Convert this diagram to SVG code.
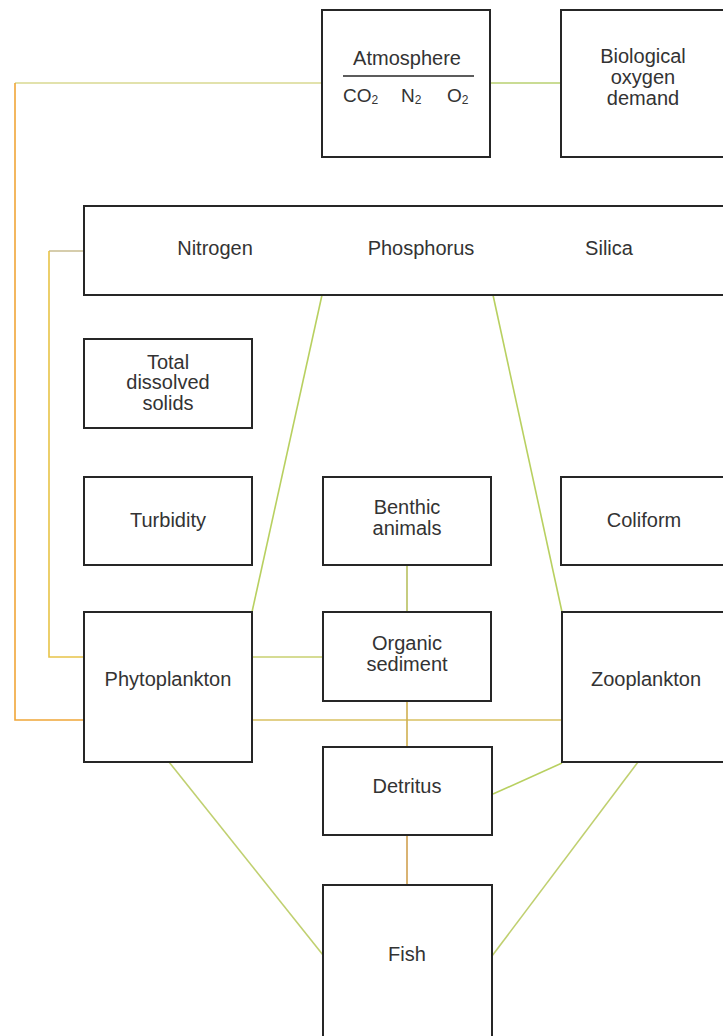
<svg xmlns="http://www.w3.org/2000/svg" width="723" height="1036" viewBox="0 0 723 1036">
<style>
.box{fill:#fff;stroke:#262626;stroke-width:2}
.t{font-family:"Liberation Sans",Arial,sans-serif;font-size:20px;fill:#333;text-anchor:middle}
.c{fill:none;stroke-width:1.6}
.sub{font-size:12px}
</style>
<rect width="723" height="1036" fill="#fff"/>
<g id="connectors">
<path class="c" d="M322,83 H15" stroke="#d8d890"/>
<path class="c" d="M15,83 V720 H84" stroke="#f0a638"/>
<path class="c" d="M490,83 H561" stroke="#b8d070"/>
<path class="c" d="M84,251 H49" stroke="#c8bc90"/>
<path class="c" d="M49,251 V657 H84" stroke="#e8c448"/>
<path class="c" d="M252,657 H323" stroke="#c8d070"/>
<path class="c" d="M322,295 L252,612" stroke="#b8d060"/>
<path class="c" d="M493,295 L562,612" stroke="#b8d060"/>
<path class="c" d="M407,565 V612" stroke="#b8c060"/>
<path class="c" d="M252,720 H562" stroke="#d8c060"/>
<path class="c" d="M407,701 V747" stroke="#d0b050"/>
<path class="c" d="M562,763 L493,794" stroke="#b8d060" stroke-width="2"/>
<path class="c" d="M407,835 V885" stroke="#d0a050"/>
<path class="c" d="M169,762 L323,955" stroke="#c0d070"/>
<path class="c" d="M638,762 L492,956" stroke="#c0d070"/>
</g>
<g id="atmosphere">
<rect class="box" x="322" y="10" width="168" height="147"/>
<text class="t" x="407" y="65">Atmosphere</text>
<line x1="343" y1="76" x2="474" y2="76" stroke="#262626" stroke-width="1.5"/>
<text class="t" x="343" y="102" style="text-anchor:start;font-size:19px">CO<tspan class="sub" dy="2">2</tspan><tspan dy="-2" x="401">N</tspan><tspan class="sub" dy="2">2</tspan><tspan dy="-2" x="447">O</tspan><tspan class="sub" dy="2">2</tspan></text>
</g>
<g id="bod">
<rect class="box" x="561" y="10" width="180" height="147"/>
<text class="t" x="643" y="63">Biological</text>
<text class="t" x="643" y="84">oxygen</text>
<text class="t" x="643" y="105">demand</text>
</g>
<g id="nutrients">
<rect class="box" x="84" y="206" width="660" height="89"/>
<text class="t" x="215" y="255">Nitrogen</text>
<text class="t" x="421" y="255">Phosphorus</text>
<text class="t" x="609" y="255">Silica</text>
</g>
<g id="tds">
<rect class="box" x="84" y="339" width="168" height="89"/>
<text class="t" x="168" y="369">Total</text>
<text class="t" x="168" y="389">dissolved</text>
<text class="t" x="168" y="410">solids</text>
</g>
<g id="turbidity">
<rect class="box" x="84" y="477" width="168" height="88"/>
<text class="t" x="168" y="527">Turbidity</text>
</g>
<g id="benthic">
<rect class="box" x="323" y="477" width="168" height="88"/>
<text class="t" x="407" y="514">Benthic</text>
<text class="t" x="407" y="535">animals</text>
</g>
<g id="coliform">
<rect class="box" x="561" y="477" width="180" height="88"/>
<text class="t" x="644" y="527">Coliform</text>
</g>
<g id="phytoplankton">
<rect class="box" x="84" y="612" width="168" height="150"/>
<text class="t" x="168" y="686">Phytoplankton</text>
</g>
<g id="organic-sediment">
<rect class="box" x="323" y="612" width="168" height="89"/>
<text class="t" x="407" y="650">Organic</text>
<text class="t" x="407" y="671">sediment</text>
</g>
<g id="zooplankton">
<rect class="box" x="562" y="612" width="180" height="150"/>
<text class="t" x="646" y="686">Zooplankton</text>
</g>
<g id="detritus">
<rect class="box" x="323" y="747" width="169" height="88"/>
<text class="t" x="407" y="793">Detritus</text>
</g>
<g id="fish">
<rect class="box" x="323" y="885" width="169" height="160"/>
<text class="t" x="407" y="961">Fish</text>
</g>
</svg>
